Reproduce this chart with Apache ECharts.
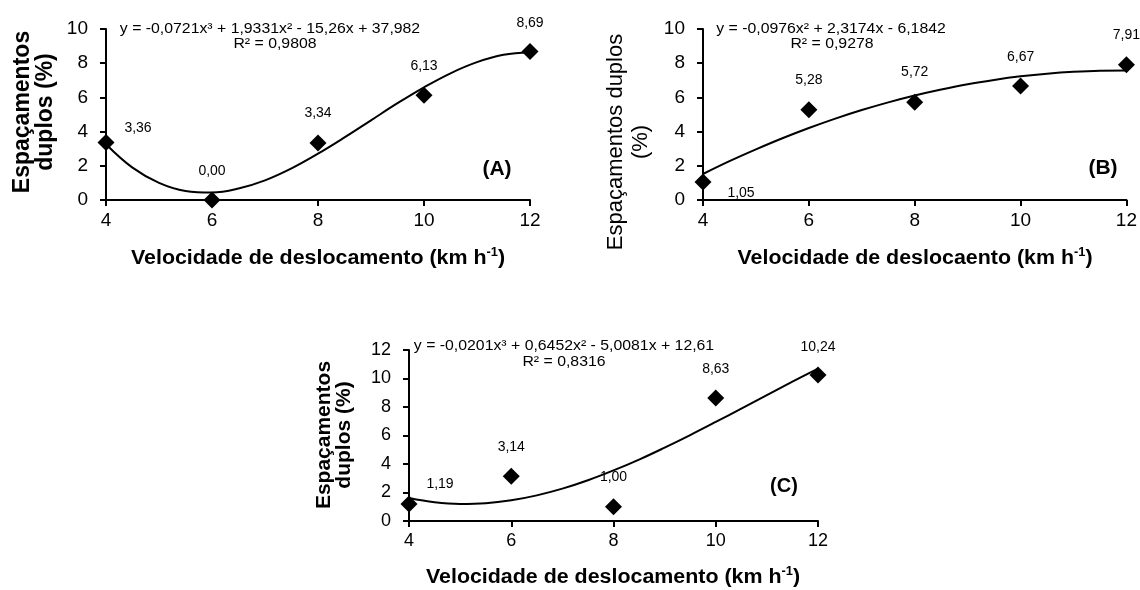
<!DOCTYPE html>
<html>
<head>
<meta charset="utf-8">
<script src="https://cdn.jsdelivr.net/npm/echarts@6/dist/echarts.min.js"></script>
<style>html,body{margin:0;padding:0;background:#fff;}#c{width:1140px;height:590px;}</style>
</head>
<body>
<div id="c"></div>
<script>
// ---- data ----
const speeds = [4, 6, 8, 10, 12];
const xTicks = [4, 6, 8, 10, 12];
const valuesA = [3.36, 0.00, 3.34, 6.13, 8.69];
const valuesB = [1.05, 5.28, 5.72, 6.67, 7.91];
const valuesC = [1.19, 3.14, 1.00, 8.63, 10.24];
// trend curves
const curveX = [4, 4.5, 5, 5.5, 6, 6.5, 7, 7.5, 8, 8.5, 9, 9.5, 10, 10.5, 11, 11.5, 12];
const curveA = [3.26, 1.89, 1.00, 0.53, 0.44, 0.67, 1.15, 1.85, 2.71, 3.66, 4.66, 5.66, 6.59, 7.41, 8.06, 8.49, 8.64];
const curveB = [1.52, 2.27, 2.96, 3.61, 4.21, 4.76, 5.26, 5.71, 6.11, 6.46, 6.77, 7.02, 7.23, 7.39, 7.50, 7.56, 7.57];
const curveC = [1.61, 1.31, 1.19, 1.24, 1.45, 1.80, 2.27, 2.86, 3.55, 4.31, 5.15, 6.03, 6.95, 7.89, 8.84, 9.78, 10.69];
const eqA = 'y = -0,0721x³ + 1,9331x² - 15,26x + 37,982';
const r2A = 'R² = 0,9808';
const eqB = 'y = -0,0976x² + 2,3174x - 6,1842';
const r2B = 'R² = 0,9278';
const eqC = 'y = -0,0201x³ + 0,6452x² - 5,0081x + 12,61';
const r2C = 'R² = 0,8316';
const xTitleA = 'Velocidade de deslocamento (km h';
const xTitleB = 'Velocidade de deslocaento (km h';
const xTitleC = 'Velocidade de deslocamento (km h';
const yTitleA = 'Espaçamentos\nduplos (%)';
const yTitleB = 'Espaçamentos duplos\n(%)';
const yTitleC = 'Espaçamentos\nduplos (%)';
const panelA = '(A)', panelB = '(B)', panelC = '(C)';

// ---- styling / layout ----
const FF = '"Liberation Sans", Arial, sans-serif';
const chart = echarts.init(document.getElementById('c'), null, {renderer: 'canvas'});

function xAx(gi, fs) {
  return {
    gridIndex: gi, type: 'value', min: 4, max: 12, interval: 2,
    axisLine: {show: true, onZero: false, lineStyle: {color: '#000', width: 2}},
    axisTick: {show: true, length: 6, lineStyle: {color: '#000', width: 2}},
    axisLabel: {color: '#000', fontSize: fs, fontFamily: FF, margin: 11,
      formatter: v => xTicks.includes(v) ? String(v) : ''},
    splitLine: {show: false}
  };
}
function yAx(gi, max, fs) {
  return {
    gridIndex: gi, type: 'value', min: 0, max: max, interval: 2,
    axisLine: {show: true, onZero: false, lineStyle: {color: '#000', width: 2}},
    axisTick: {show: true, length: 6, lineStyle: {color: '#000', width: 2}},
    axisLabel: {color: '#000', fontSize: fs, fontFamily: FF, margin: 18},
    splitLine: {show: false}
  };
}
function pts(vals, offs) {
  return vals.map((v, i) => ({
    value: [speeds[i], v],
    label: {offset: offs[i]}
  }));
}
function scatter(idx, vals, offs) {
  return {
    type: 'scatter', xAxisIndex: idx, yAxisIndex: idx, clip: false, z: 5,
    symbol: 'diamond', symbolSize: 17, itemStyle: {color: '#000', opacity: 1},
    data: pts(vals, offs),
    label: {show: true, position: 'inside', color: '#000', fontSize: 14, fontFamily: FF,
      formatter: p => p.value[1].toFixed(2).replace('.', ',')}
  };
}
function curve(idx, ys) {
  return {
    type: 'line', xAxisIndex: idx, yAxisIndex: idx, smooth: 0.4, showSymbol: false, clip: false, z: 3,
    lineStyle: {color: '#000', width: 2},
    data: curveX.map((x, i) => [x, ys[i]])
  };
}
function txt(x, y, text, o) {
  return Object.assign({
    type: 'text', x: x, y: y,
    style: Object.assign({text: text, align: 'center', verticalAlign: 'middle', fill: '#000',
      fontFamily: FF, fontSize: 13}, o && o.style)
  }, o && o.el);
}
function eq(x, y, text) {
  return txt(x, y, text, {style: {fontSize: 14}, el: {scaleX: 1.13}});
}
function xTitle(x, y, t, fs) {
  return {
    type: 'text', x: x, y: y, scaleX: 1.07,
    style: {
      text: t + '{sup|-1})', align: 'center', verticalAlign: 'middle', fill: '#000',
      fontFamily: FF, fontSize: fs, fontWeight: 'bold', lineHeight: 22,
      rich: {sup: {fontSize: 12, fontWeight: 'bold', fontFamily: FF, verticalAlign: 'top', lineHeight: 12, fill: '#000', color: '#000'}}
    }
  };
}

const offA = [[32, -14], [0, -29], [0, -30], [0, -29], [0, -28]];
const offB = [[38, 11], [0, -30], [0, -30], [0, -29], [0, -30]];
const offC = [[31, -20], [0, -29], [0, -30], [0, -29], [0, -28]];

chart.setOption({
  backgroundColor: '#fff',
  animation: false,
  grid: [
    {left: 106, right: 610, top: 29, bottom: 390},
    {left: 703, right: 13, top: 29, bottom: 390},
    {left: 409, right: 322, top: 350, bottom: 69}
  ],
  xAxis: [xAx(0, 19), xAx(1, 19), xAx(2, 18)],
  yAxis: [yAx(0, 10, 19), yAx(1, 10, 19), yAx(2, 12, 18)],
  series: [
    curve(0, curveA), scatter(0, valuesA, offA),
    curve(1, curveB), scatter(1, valuesB, offB),
    curve(2, curveC), scatter(2, valuesC, offC)
  ],
  graphic: [
    eq(270, 29, eqA), eq(275, 44, r2A),
    eq(831, 29, eqB), eq(832, 44, r2B),
    eq(564, 346, eqC), eq(564, 362, r2C),
    txt(497, 169, panelA, {style: {fontSize: 21, fontWeight: 'bold'}}),
    txt(1103, 168, panelB, {style: {fontSize: 21, fontWeight: 'bold'}}),
    txt(784, 486, panelC, {style: {fontSize: 20, fontWeight: 'bold'}}),
    xTitle(318, 258, xTitleA, 20),
    xTitle(915, 258, xTitleB, 20),
    xTitle(613, 577, xTitleC, 20),
    txt(34, 112, yTitleA, {style: {fontSize: 23, fontWeight: 'bold', lineHeight: 23}, el: {rotation: Math.PI / 2}}),
    txt(628, 142, yTitleB, {style: {fontSize: 22, lineHeight: 25}, el: {rotation: Math.PI / 2}}),
    txt(334, 435, yTitleC, {style: {fontSize: 21, fontWeight: 'bold', lineHeight: 20}, el: {rotation: Math.PI / 2}})
  ]
});
</script>
</body>
</html>
